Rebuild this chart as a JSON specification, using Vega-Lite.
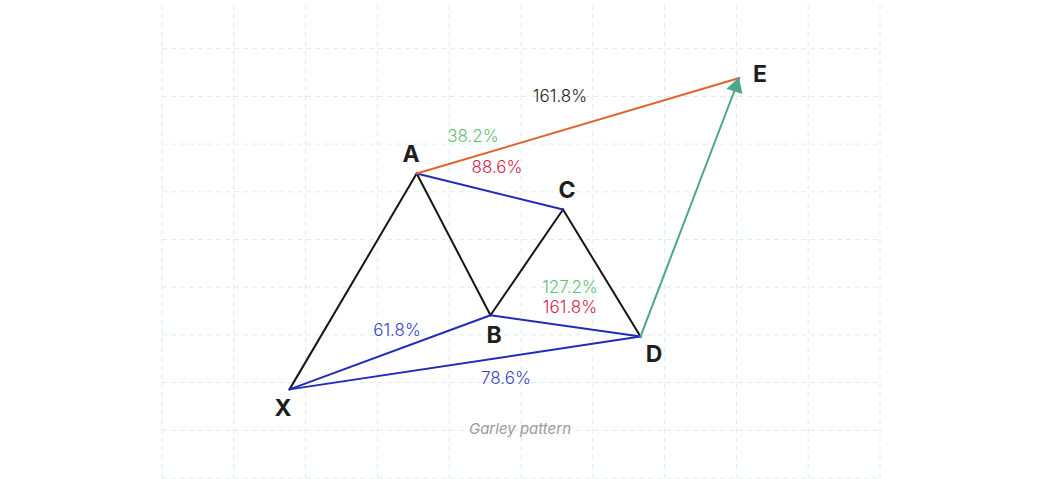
{
  "$schema": "https://vega.github.io/schema/vega-lite/v6.json",
  "width": 1042,
  "height": 479,
  "autosize": {"type": "fit", "contains": "padding"},
  "padding": 0,
  "background": "#ffffff",
  "config": {"view": {"stroke": null}},
  "resolve": {"scale": {"color": "independent"}},
  "datasets": {
    "grid": [
      {"x": 0, "y": 0, "x2": 0, "y2": 10},
      {"x": 1, "y": 0, "x2": 1, "y2": 10},
      {"x": 2, "y": 0, "x2": 2, "y2": 10},
      {"x": 3, "y": 0, "x2": 3, "y2": 10},
      {"x": 4, "y": 0, "x2": 4, "y2": 10},
      {"x": 5, "y": 0, "x2": 5, "y2": 10},
      {"x": 6, "y": 0, "x2": 6, "y2": 10},
      {"x": 7, "y": 0, "x2": 7, "y2": 10},
      {"x": 8, "y": 0, "x2": 8, "y2": 10},
      {"x": 9, "y": 0, "x2": 9, "y2": 10},
      {"x": 10, "y": 0, "x2": 10, "y2": 10},
      {"x": 0, "y": 0, "x2": 10, "y2": 0},
      {"x": 0, "y": 1, "x2": 10, "y2": 1},
      {"x": 0, "y": 2, "x2": 10, "y2": 2},
      {"x": 0, "y": 3, "x2": 10, "y2": 3},
      {"x": 0, "y": 4, "x2": 10, "y2": 4},
      {"x": 0, "y": 5, "x2": 10, "y2": 5},
      {"x": 0, "y": 6, "x2": 10, "y2": 6},
      {"x": 0, "y": 7, "x2": 10, "y2": 7},
      {"x": 0, "y": 8, "x2": 10, "y2": 8},
      {"x": 0, "y": 9, "x2": 10, "y2": 9}
    ],
    "segments": [
      {"leg": "XA", "kind": "swing", "x": 1.776, "y": 1.858, "x2": 3.547, "y2": 6.382},
      {"leg": "AB", "kind": "swing", "x": 3.547, "y": 6.382, "x2": 4.575, "y2": 3.413},
      {"leg": "BC", "kind": "swing", "x": 4.575, "y": 3.413, "x2": 5.585, "y2": 5.630},
      {"leg": "CD", "kind": "swing", "x": 5.585, "y": 5.630, "x2": 6.664, "y2": 2.965},
      {"leg": "AC", "kind": "ratio", "x": 3.547, "y": 6.382, "x2": 5.585, "y2": 5.630},
      {"leg": "XB", "kind": "ratio", "x": 1.776, "y": 1.858, "x2": 4.575, "y2": 3.413},
      {"leg": "BD", "kind": "ratio", "x": 4.575, "y": 3.413, "x2": 6.664, "y2": 2.965},
      {"leg": "XD", "kind": "ratio", "x": 1.776, "y": 1.858, "x2": 6.664, "y2": 2.965},
      {"leg": "AE", "kind": "target", "x": 3.547, "y": 6.382, "x2": 8.040, "y2": 8.386},
      {"leg": "DE", "kind": "move", "x": 6.664, "y": 2.965, "x2": 8.040, "y2": 8.386}
    ],
    "arrow": [
      {"kind": "move", "x": 8.004, "y": 8.251}
    ],
    "points": [
      {"label": "X", "x": 1.685, "y": 1.441},
      {"label": "A", "x": 3.468, "y": 6.764},
      {"label": "B", "x": 4.624, "y": 2.985},
      {"label": "C", "x": 5.641, "y": 6.013},
      {"label": "D", "x": 6.852, "y": 2.589},
      {"label": "E", "x": 8.329, "y": 8.455}
    ],
    "ratios": [
      {"label": "38.2%", "tone": "green", "x": 4.331, "y": 7.140},
      {"label": "88.6%", "tone": "red", "x": 4.666, "y": 6.493},
      {"label": "161.8%", "tone": "black", "x": 5.543, "y": 7.996},
      {"label": "61.8%", "tone": "blue", "x": 3.273, "y": 3.090},
      {"label": "78.6%", "tone": "blue", "x": 4.791, "y": 2.067},
      {"label": "127.2%", "tone": "green", "x": 5.682, "y": 3.987},
      {"label": "161.8%", "tone": "red", "x": 5.682, "y": 3.570}
    ],
    "caption": [
      {"label": "Garley pattern", "x": 4.986, "y": 1.023}
    ]
  },
  "encoding": {
    "x": {"field": "x", "type": "quantitative", "scale": {"domain": [-2.256, 12.256], "nice": false, "zero": false}, "axis": null},
    "y": {"field": "y", "type": "quantitative", "scale": {"domain": [0, 10], "nice": false, "zero": false}, "axis": null}
  },
  "layer": [
    {
      "data": {"name": "grid"},
      "mark": {"type": "rule", "stroke": "#d9eef1", "strokeWidth": 1, "strokeDash": [5, 4]},
      "encoding": {
        "x2": {"field": "x2"},
        "y2": {"field": "y2"}
      }
    },
    {
      "data": {"name": "segments"},
      "mark": {"type": "rule", "strokeWidth": 2, "strokeCap": "round"},
      "encoding": {
        "x2": {"field": "x2"},
        "y2": {"field": "y2"},
        "color": {
          "field": "kind", "type": "nominal", "legend": null,
          "scale": {"domain": ["swing", "ratio", "target", "move"], "range": ["#151515", "#1f2db5", "#e0632c", "#4da68a"]}
        }
      }
    },
    {
      "data": {"name": "arrow"},
      "mark": {"type": "point", "shape": "triangle-up", "filled": true, "size": 280, "angle": 18, "opacity": 1},
      "encoding": {
        "color": {
          "field": "kind", "type": "nominal", "legend": null,
          "scale": {"domain": ["swing", "ratio", "target", "move"], "range": ["#151515", "#1f2db5", "#e0632c", "#4da68a"]}
        }
      }
    },
    {
      "data": {"name": "points"},
      "mark": {"type": "text", "font": "Inter", "fontWeight": 700, "fontSize": 23, "color": "#1e1e1e", "align": "center", "baseline": "middle"},
      "encoding": {"text": {"field": "label"}}
    },
    {
      "data": {"name": "ratios"},
      "mark": {"type": "text", "font": "Inter", "fontWeight": 300, "fontSize": 17, "align": "center", "baseline": "middle"},
      "encoding": {
        "text": {"field": "label"},
        "color": {
          "field": "tone", "type": "nominal", "legend": null,
          "scale": {"domain": ["green", "red", "black", "blue"], "range": ["#5cbf72", "#d7244d", "#1e1e1e", "#3a3fc8"]}
        }
      }
    },
    {
      "data": {"name": "caption"},
      "mark": {"type": "text", "font": "Inter", "fontStyle": "italic", "fontWeight": 400, "fontSize": 15, "color": "#9a9a9a", "align": "center", "baseline": "middle"},
      "encoding": {"text": {"field": "label"}}
    }
  ]
}
